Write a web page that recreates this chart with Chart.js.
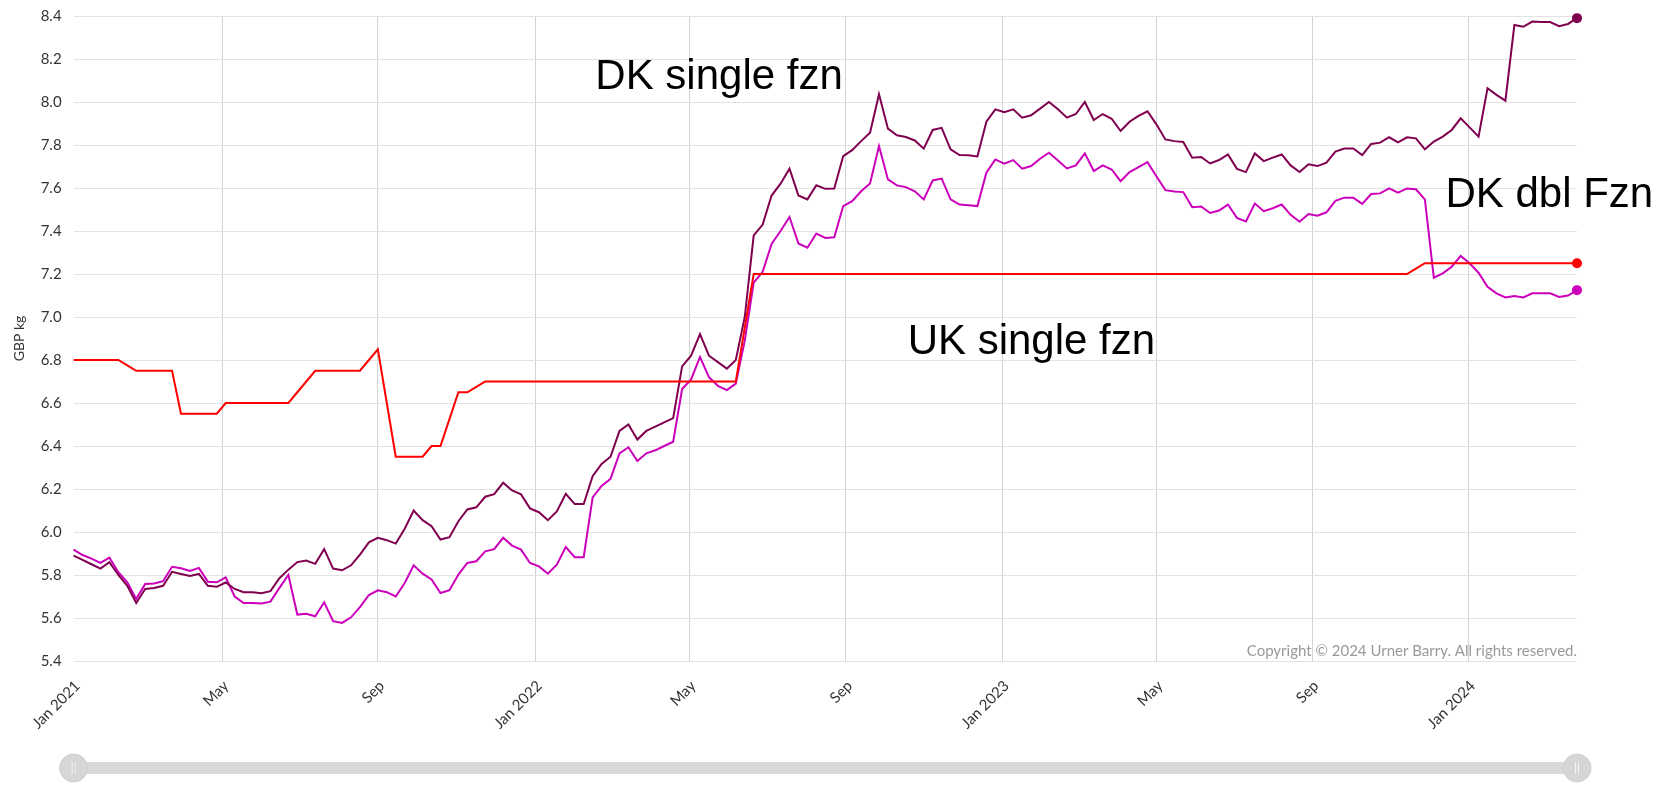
<!DOCTYPE html>
<html lang="en">
<head>
<meta charset="utf-8"/>
<title>DK vs UK frozen - GBP kg</title>
<script src="https://cdn.jsdelivr.net/npm/chart.js"></script>
<style>
  html, body { margin: 0; padding: 0; background: #fff; }
  .chart-box { width: 1673px; height: 799px; }
</style>
</head>
<body>
<div class="chart-box"><canvas id="priceChart" width="1673" height="799"></canvas></div>
<script>
// x axis: one point per week, Jan 2021 -> Mar 2024
const tickLabels = ['Jan 2021', 'May', 'Sep', 'Jan 2022', 'May', 'Sep', 'Jan 2023', 'May', 'Sep', 'Jan 2024'];
const tickPos = [0, 16.6, 34.0, 51.6, 68.8, 86.3, 103.8, 121.0, 138.4, 155.9];
const yTicks = [5.4, 5.6, 5.8, 6.0, 6.2, 6.4, 6.6, 6.8, 7.0, 7.2, 7.4, 7.6, 7.8, 8.0, 8.2, 8.4];

const ukSingle = [
  6.8, 6.8, 6.8, 6.8, 6.8, 6.8, 6.775, 6.75, 6.75, 6.75,
  6.75, 6.75, 6.55, 6.55, 6.55, 6.55, 6.55, 6.6, 6.6, 6.6,
  6.6, 6.6, 6.6, 6.6, 6.6, 6.65, 6.7, 6.75, 6.75, 6.75,
  6.75, 6.75, 6.75, 6.8, 6.85, 6.6, 6.35, 6.35, 6.35, 6.35,
  6.4, 6.4, 6.525, 6.65, 6.65, 6.675, 6.7, 6.7, 6.7, 6.7,
  6.7, 6.7, 6.7, 6.7, 6.7, 6.7, 6.7, 6.7, 6.7, 6.7,
  6.7, 6.7, 6.7, 6.7, 6.7, 6.7, 6.7, 6.7, 6.7, 6.7,
  6.7, 6.7, 6.7, 6.7, 6.7, 6.95, 7.2, 7.2, 7.2, 7.2,
  7.2, 7.2, 7.2, 7.2, 7.2, 7.2, 7.2, 7.2, 7.2, 7.2,
  7.2, 7.2, 7.2, 7.2, 7.2, 7.2, 7.2, 7.2, 7.2, 7.2,
  7.2, 7.2, 7.2, 7.2, 7.2, 7.2, 7.2, 7.2, 7.2, 7.2,
  7.2, 7.2, 7.2, 7.2, 7.2, 7.2, 7.2, 7.2, 7.2, 7.2,
  7.2, 7.2, 7.2, 7.2, 7.2, 7.2, 7.2, 7.2, 7.2, 7.2,
  7.2, 7.2, 7.2, 7.2, 7.2, 7.2, 7.2, 7.2, 7.2, 7.2,
  7.2, 7.2, 7.2, 7.2, 7.2, 7.2, 7.2, 7.2, 7.2, 7.2,
  7.225, 7.25, 7.25, 7.25, 7.25, 7.25, 7.25, 7.25, 7.25, 7.25,
  7.25, 7.25, 7.25, 7.25, 7.25, 7.25, 7.25, 7.25, 7.25
];

const dkSingle = [
  5.89, 5.87, 5.85, 5.83, 5.86, 5.80, 5.75, 5.67, 5.735, 5.74,
  5.75, 5.815, 5.805, 5.795, 5.805, 5.75, 5.745, 5.765, 5.735, 5.72,
  5.72, 5.715, 5.725, 5.785, 5.825, 5.86, 5.867, 5.852, 5.92, 5.83,
  5.822, 5.845, 5.895, 5.952, 5.973, 5.962, 5.946, 6.015, 6.10, 6.055,
  6.027, 5.965, 5.976, 6.05, 6.105, 6.115, 6.164, 6.176, 6.229, 6.193,
  6.175, 6.11, 6.092, 6.055, 6.096, 6.178, 6.13, 6.13, 6.26, 6.317,
  6.35, 6.47, 6.50, 6.43, 6.47, 6.49, 6.51, 6.53, 6.77, 6.82,
  6.92, 6.82, 6.79, 6.76, 6.80, 7.0, 7.38, 7.43, 7.565, 7.62,
  7.69, 7.565, 7.547, 7.613, 7.596, 7.598, 7.748, 7.776, 7.818, 7.857,
  8.036, 7.876, 7.845, 7.837, 7.821, 7.783, 7.87, 7.88, 7.78, 7.753,
  7.752, 7.747, 7.908, 7.966, 7.953, 7.966, 7.927, 7.938, 7.969, 8.0,
  7.966, 7.927, 7.944, 8.0, 7.916, 7.944, 7.922, 7.865, 7.908, 7.935,
  7.957, 7.896, 7.826, 7.818, 7.814, 7.741, 7.744, 7.714, 7.73, 7.756,
  7.689, 7.674, 7.761, 7.725, 7.741, 7.756, 7.705, 7.674, 7.71, 7.702,
  7.718, 7.769, 7.784, 7.784, 7.753, 7.805, 7.811, 7.836, 7.812, 7.836,
  7.831, 7.78, 7.816, 7.839, 7.87, 7.924, 7.882, 7.839, 8.064, 8.033,
  8.006, 8.358, 8.35, 8.374, 8.372, 8.372, 8.353, 8.363, 8.39
];

const dkDbl = [
  5.918, 5.893, 5.876, 5.856, 5.881, 5.813, 5.766, 5.689, 5.758, 5.761,
  5.771, 5.838, 5.831, 5.819, 5.833, 5.769, 5.766, 5.789, 5.70, 5.67,
  5.67, 5.668, 5.676, 5.74, 5.80, 5.616, 5.62, 5.608, 5.673, 5.585,
  5.577, 5.603, 5.651, 5.707, 5.729, 5.72, 5.70, 5.763, 5.845, 5.806,
  5.779, 5.716, 5.729, 5.802, 5.856, 5.864, 5.91, 5.92, 5.973, 5.937,
  5.918, 5.856, 5.84, 5.806, 5.848, 5.93, 5.883, 5.883, 6.161, 6.214,
  6.247, 6.366, 6.394, 6.33, 6.366, 6.38, 6.40, 6.42, 6.665, 6.71,
  6.814, 6.72, 6.68, 6.66, 6.69, 6.89, 7.16, 7.21, 7.34, 7.40,
  7.465, 7.342, 7.322, 7.388, 7.368, 7.371, 7.516, 7.539, 7.585, 7.621,
  7.795, 7.64, 7.612, 7.604, 7.585, 7.547, 7.635, 7.644, 7.547, 7.523,
  7.52, 7.516, 7.671, 7.733, 7.713, 7.73, 7.69, 7.702, 7.736, 7.764,
  7.728, 7.691, 7.705, 7.761, 7.679, 7.705, 7.686, 7.632, 7.674, 7.697,
  7.72, 7.655, 7.59, 7.584, 7.581, 7.511, 7.514, 7.484, 7.495, 7.523,
  7.461, 7.444, 7.528, 7.492, 7.506, 7.523, 7.475, 7.443, 7.479, 7.471,
  7.487, 7.54, 7.555, 7.555, 7.526, 7.572, 7.575, 7.598, 7.578, 7.598,
  7.594, 7.547, 7.183, 7.203, 7.234, 7.284, 7.25, 7.206, 7.141, 7.11,
  7.091, 7.098, 7.091, 7.11, 7.11, 7.11, 7.093, 7.10, 7.125
];

// text labels placed in data units (x = week index, y = GBP kg at baseline)
const notes = [
  { text: 'DK single fzn', x: 58.3, y: 8.059 },
  { text: 'UK single fzn', x: 93.2, y: 6.83 },
  { text: 'DK dbl Fzn', x: 153.3, y: 7.51 }
];

const toPoints = arr => arr.map((y, x) => ({ x, y }));
const lastDot = arr => ctx => ctx.dataIndex === arr.length - 1 ? 5 : 0;

function line(label, arr, color) {
  return {
    label: label,
    data: toPoints(arr),
    borderColor: color,
    backgroundColor: color,
    pointBackgroundColor: color,
    pointBorderWidth: 0,
    pointRadius: lastDot(arr),
    borderWidth: 2,
    tension: 0,
    fill: false,
    clip: false
  };
}

const notesPlugin = {
  id: 'notes',
  afterDatasetsDraw(chart) {
    const { ctx, scales: { x, y }, chartArea } = chart;
    ctx.save();
    ctx.fillStyle = '#000';
    ctx.font = '42px "Liberation Sans", Arial, sans-serif';
    ctx.textAlign = 'left';
    ctx.textBaseline = 'alphabetic';
    notes.forEach(n => ctx.fillText(n.text, x.getPixelForValue(n.x), y.getPixelForValue(n.y)));

    ctx.fillStyle = '#999';
    ctx.font = '15px Lato, sans-serif';
    ctx.textAlign = 'right';
    ctx.fillText('Copyright \u00a9 2024 Urner Barry. All rights reserved.', chartArea.right, chartArea.bottom - 5);
    ctx.restore();
  }
};

// range selector bar under the chart
const navigatorPlugin = {
  id: 'navigator',
  afterDraw(chart) {
    const { ctx, chartArea } = chart;
    const cy = chart.height - 31;
    const left = chartArea.left, right = chartArea.right;
    ctx.save();
    ctx.fillStyle = '#d9d9d9';
    ctx.fillRect(left, cy - 6, right - left, 12);
    [left, right].forEach(hx => {
      ctx.beginPath();
      ctx.arc(hx, cy, 14, 0, Math.PI * 2);
      ctx.fillStyle = '#d6d6d6';
      ctx.fill();
      ctx.strokeStyle = '#cfcfcf';
      ctx.lineWidth = 1;
      ctx.stroke();
      ctx.strokeStyle = '#f2f2f2';
      ctx.beginPath();
      ctx.moveTo(hx - 1.5, cy - 6); ctx.lineTo(hx - 1.5, cy + 6);
      ctx.moveTo(hx + 1.5, cy - 6); ctx.lineTo(hx + 1.5, cy + 6);
      ctx.stroke();
    });
    ctx.restore();
  }
};

const ctx = document.getElementById('priceChart').getContext('2d');
new Chart(ctx, {
  type: 'line',
  data: {
    datasets: [
      line('UK single fzn', ukSingle, '#ff0000'),
      line('DK single fzn', dkSingle, '#800050'),
      line('DK dbl Fzn', dkDbl, '#cc00bb')
    ]
  },
  options: {
    responsive: false,
    animation: false,
    layout: { padding: { left: 0, right: 96, top: 16, bottom: 0 } },
    plugins: {
      legend: { display: false },
      tooltip: { enabled: false }
    },
    scales: {
      x: {
        type: 'linear',
        min: 0,
        max: dkSingle.length - 1,
        afterBuildTicks: s => { s.ticks = tickPos.map(v => ({ value: v })); },
        afterFit: s => { s.height = 138; },
        border: { display: false },
        grid: {
          color: c => c.index === 0 ? 'rgba(0,0,0,0)' : '#d4d4d4',
          lineWidth: 1,
          drawTicks: false
        },
        ticks: {
          autoSkip: false,
          minRotation: 45,
          maxRotation: 45,
          labelOffset: 4,
          padding: 16,
          color: '#333',
          font: { family: 'Lato', size: 15 },
          callback: (v, i) => tickLabels[i]
        }
      },
      y: {
        min: 5.4,
        max: 8.4,
        afterBuildTicks: s => { s.ticks = yTicks.map(v => ({ value: v })); },
        afterFit: s => { s.width = 73.6; s.paddingTop = 0; },
        border: { display: false },
        grid: { color: '#e3e3e3', lineWidth: 1, drawTicks: false },
        ticks: {
          padding: 12,
          color: '#333',
          font: { family: 'Lato', size: 15 },
          callback: v => v.toFixed(1)
        },
        title: {
          display: true,
          text: 'GBP kg',
          color: '#333',
          font: { family: 'Lato', size: 14 },
          padding: { top: 11, bottom: 0 }
        }
      }
    }
  },
  plugins: [notesPlugin, navigatorPlugin]
});
</script>
</body>
</html>
